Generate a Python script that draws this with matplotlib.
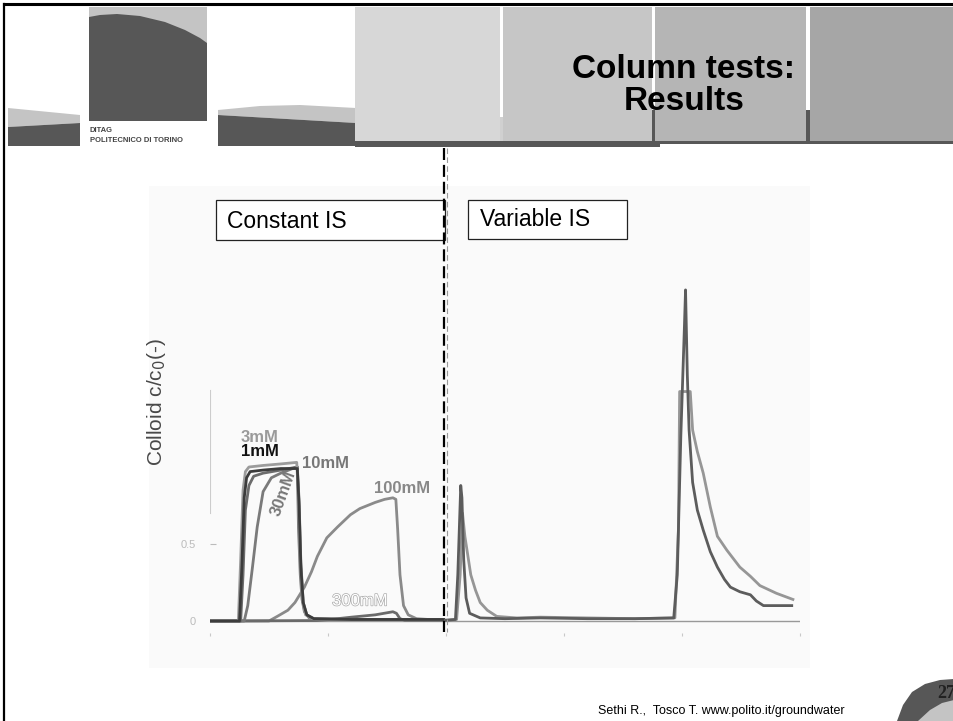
import matplotlib
matplotlib.use("Agg")
import matplotlib.pyplot as plt
import matplotlib.patheffects as pe
from matplotlib.patches import Rectangle, Polygon

plt.rcParams['font.family'] = ['Liberation Sans', 'DejaVu Sans']

# ---- data (x in tick units, y = c/c0) ----
x_1mM = [0, 0.25, 0.27, 0.29, 0.31, 0.34, 0.45, 0.60, 0.74, 0.755, 0.77, 0.79, 0.82, 0.88, 1.2, 1.98]
y_1mM = [0, 0, 0.35, 0.80, 0.93, 0.97, 0.98, 0.99, 0.99, 0.75, 0.35, 0.12, 0.04, 0.015, 0.01, 0.01]

x_3mM = [0, 0.24, 0.26, 0.28, 0.30, 0.33, 0.45, 0.60, 0.735, 0.75, 0.765, 0.785, 0.81, 0.87, 1.2, 1.98]
y_3mM = [0, 0, 0.40, 0.85, 0.97, 1.00, 1.01, 1.02, 1.03, 0.80, 0.40, 0.13, 0.04, 0.015, 0.01, 0.01]

x_10mM = [0, 0.26, 0.28, 0.30, 0.33, 0.37, 0.45, 0.60, 0.74, 0.755, 0.77, 0.79, 0.82, 0.88, 1.2, 1.98]
y_10mM = [0, 0, 0.30, 0.72, 0.88, 0.94, 0.96, 0.98, 1.00, 0.78, 0.38, 0.12, 0.04, 0.015, 0.01, 0.01]

x_30mM = [0, 0.29, 0.32, 0.36, 0.40, 0.45, 0.52, 0.60, 0.70, 0.74, 0.75, 0.765, 0.78, 0.80, 0.84, 0.9, 1.2, 1.98]
y_30mM = [0, 0, 0.10, 0.35, 0.61, 0.84, 0.93, 0.96, 0.99, 1.00, 0.60, 0.30, 0.14, 0.06, 0.02, 0.01, 0.01, 0.01]

x_100mM = [0, 0.50, 0.57, 0.66, 0.72, 0.80, 0.86, 0.91, 0.99, 1.08, 1.19, 1.27, 1.40, 1.48, 1.55,
           1.575, 1.59, 1.61, 1.64, 1.68, 1.75, 1.85, 1.98]
y_100mM = [0, 0, 0.03, 0.07, 0.12, 0.22, 0.32, 0.42, 0.54, 0.61, 0.69, 0.73, 0.77, 0.79, 0.80,
           0.79, 0.60, 0.30, 0.10, 0.04, 0.015, 0.01, 0.01]

x_300mM = [0, 0.9, 1.02, 1.2, 1.4, 1.55, 1.58, 1.61, 1.65, 1.75, 1.98]
y_300mM = [0, 0.003, 0.01, 0.025, 0.04, 0.06, 0.05, 0.015, 0.005, 0.005, 0.005]

# variable IS runs
x_var1 = [2.0, 2.08, 2.10, 2.125, 2.135, 2.15, 2.17, 2.20, 2.29, 2.5, 2.8, 3.2, 3.6, 3.93, 3.96, 3.99,
          4.02, 4.03, 4.045, 4.06, 4.09, 4.13, 4.18, 4.24, 4.30, 4.36, 4.41, 4.49, 4.58, 4.63, 4.69, 4.80, 4.93]
y_var1 = [0.005, 0.01, 0.3, 0.88, 0.8, 0.4, 0.15, 0.05, 0.02, 0.015, 0.02, 0.015, 0.015, 0.02, 0.3, 1.2,
          1.9, 2.15, 1.6, 1.24, 0.9, 0.72, 0.59, 0.45, 0.35, 0.27, 0.22, 0.19, 0.17, 0.13, 0.10, 0.10, 0.10]

x_var2 = [2.0, 2.09, 2.12, 2.14, 2.16, 2.19, 2.21, 2.25, 2.29, 2.35, 2.43, 2.6, 2.8, 3.2, 3.6, 3.94, 3.97,
          3.98, 4.07, 4.09, 4.13, 4.18, 4.24, 4.30, 4.38, 4.49, 4.58, 4.66, 4.80, 4.94]
y_var2 = [0.005, 0.01, 0.3, 0.7, 0.55, 0.4, 0.3, 0.2, 0.12, 0.07, 0.03, 0.02, 0.025, 0.02, 0.015, 0.02, 0.6,
          1.49, 1.49, 1.24, 1.1, 0.96, 0.74, 0.55, 0.46, 0.35, 0.29, 0.23, 0.18, 0.14]

x_ticks = [0, 1, 2, 3, 4, 5]
y_ticks = [0, 0.5]
y_ticklabels = ['0', '0.5']

W, H = 954, 721
fig = plt.figure(figsize=(W / 100, H / 100), dpi=100)

# ---- slide background layer in pixel coords ----
bg = fig.add_axes([0, 0, 1, 1], zorder=0)
bg.set_xlim(0, W)
bg.set_ylim(H, 0)
bg.axis('off')

dark = '#575757'
light = '#c4c4c4'

# left strip
bg.add_patch(Polygon([(8, 108), (80, 115), (80, 123), (8, 127)], color=light, lw=0))
bg.add_patch(Polygon([(8, 127), (80, 123), (80, 146), (8, 146)], color=dark, lw=0))
# logo block
bg.add_patch(Rectangle((89, 7), 118, 114, color=light, lw=0))
bg.add_patch(Polygon([(89, 121), (89, 17), (100, 15), (117, 14), (140, 16), (165, 22), (185, 30),
                      (200, 38), (207, 43), (207, 121)], color=dark, lw=0))
bg.text(90, 131, 'DITAG', fontsize=5.5, fontweight='bold', color='#444444', va='center')
bg.text(90, 141, 'POLITECNICO DI TORINO', fontsize=5.5, fontweight='bold', color='#444444', va='center')
# middle strip
bg.add_patch(Polygon([(218, 110), (260, 106), (300, 105), (356, 108), (356, 123), (218, 115)],
                     color=light, lw=0))
bg.add_patch(Polygon([(218, 115), (356, 123), (356, 146), (218, 146)], color=dark, lw=0))
# header blocks
blocks = [(355, 500, '#d7d7d7'), (503, 652, '#c6c6c6'), (655, 806, '#b5b5b5'), (810, 954, '#a6a6a6')]
bg.add_patch(Rectangle((355, 141), 305, 6, color=dark, lw=0))
bg.add_patch(Rectangle((660, 141), 294, 3, color=dark, lw=0))
for x0, x1, c in blocks:
    bg.add_patch(Rectangle((x0, 7), x1 - x0, 134, color=c, lw=0))
bg.add_patch(Rectangle((500, 117), 3, 24, color='#d0d0d0', lw=0))
bg.add_patch(Rectangle((652, 110), 3, 31, color=dark, lw=0))
bg.add_patch(Rectangle((806, 110), 4, 31, color=dark, lw=0))
bg.text(684, 69, 'Column tests:', fontsize=24, fontweight='bold', ha='center', va='center')
bg.text(684, 102, 'Results', fontsize=24, fontweight='bold', ha='center', va='center')

# slide frame
bg.plot([4, W], [4, 4], color='black', lw=2.2)
bg.plot([4, 4], [4, H], color='black', lw=1.6)

# chart picture background
bg.add_patch(Rectangle((149, 186), 661, 482, color='#fafafa', lw=0))

# boxes
bg.add_patch(Rectangle((216, 200), 229, 40, facecolor='white', edgecolor='#222222', lw=0.9))
bg.add_patch(Rectangle((468, 200), 159, 39, facecolor='white', edgecolor='#222222', lw=0.9))
bg.text(227, 221, 'Constant IS', fontsize=16.5, va='center')
bg.text(480, 220, 'Variable IS', fontsize=16.5, va='center')

# y label
bg.text(157, 402, 'Colloid c/c$_0$(-)', fontsize=15, rotation=90, ha='center', va='center', color='#484848')

# footer
bg.text(598, 711, 'Sethi R.,  Tosco T. www.polito.it/groundwater', fontsize=9, va='center')
bg.add_patch(Polygon([(897, 721), (903, 705), (912, 692), (925, 684), (940, 680), (954, 679), (954, 721)],
                     color=dark, lw=0))
bg.add_patch(Polygon([(918, 721), (930, 710), (942, 703), (954, 700), (954, 721)], color=light, lw=0))
bg.text(955, 693, '27', fontsize=13, fontweight='bold', family='Liberation Serif', ha='right',
        va='center', color='#222222')

# ---- data axes ----
ppu_x, ppu_y = 118.0, 154.0
x0_px, y0_px = 210.0, 621.0
ylo, yhi = -0.08, 2.4
bot_px = y0_px - ylo * ppu_y
top_px = y0_px - yhi * ppu_y
ax = fig.add_axes([x0_px / W, (H - bot_px) / H, 5 * ppu_x / W, (bot_px - top_px) / H], zorder=2)
ax.patch.set_alpha(0)
ax.set_xlim(0, 5)
ax.set_ylim(ylo, yhi)
for s in ax.spines.values():
    s.set_visible(False)
ax.axhline(0, color='#999999', lw=1, zorder=1)
ax.plot([0, 0], [0.7, 1.5], color='#cccccc', lw=0.8)

ax.set_xticks(x_ticks)
ax.set_xticklabels([''] * len(x_ticks))
ax.tick_params(axis='x', colors='#c8c8c8', length=2, width=0.8)
ax.set_yticks(y_ticks)
ax.set_yticklabels(y_ticklabels)
ax.tick_params(axis='y', colors='#bbbbbb', direction='in', length=4, width=0.8, pad=10, labelsize=8)

lw = 2.0
ax.plot(x_100mM, y_100mM, color='#8a8a8a', lw=lw)
ax.plot(x_300mM, y_300mM, color='#6a6a6a', lw=lw)
ax.plot(x_30mM, y_30mM, color='#7a7a7a', lw=lw)
ax.plot(x_10mM, y_10mM, color='#6c6c6c', lw=lw)
ax.plot(x_3mM, y_3mM, color='#9c9c9c', lw=lw)
ax.plot(x_1mM, y_1mM, color='#3c3c3c', lw=lw)
ax.plot(x_var2, y_var2, color='#969696', lw=lw)
ax.plot(x_var1, y_var1, color='#5c5c5c', lw=lw)

# curve labels
ax.text(0.42, 1.19, '3mM', fontsize=12, fontweight='bold', color='#9a9a9a', ha='center', va='center')
ax.text(0.42, 1.10, '1mM', fontsize=12, fontweight='bold', color='#111111', ha='center', va='center')
ax.text(0.98, 1.02, '10mM', fontsize=12, fontweight='bold', color='#777777', ha='center', va='center')
ax.text(0.62, 0.83, '30mM', fontsize=12, fontweight='bold', color='#777777', ha='center', va='center',
        rotation=70)
ax.text(1.63, 0.86, '100mM', fontsize=12, fontweight='bold', color='#888888', ha='center', va='center')
ax.text(1.27, 0.13, '300mM', fontsize=12, color='white', ha='center', va='center',
        path_effects=[pe.withStroke(linewidth=1.0, foreground='#aaaaaa')])

# separator between constant and variable IS
ax.plot([1.987, 1.987], [3.07, -0.07], color='black', lw=1.6, ls=(0, (5.4, 2.2)), clip_on=False, zorder=5)
ax.plot([2.012, 2.012], [3.07, -0.07], color='#999999', lw=0.8, ls=(0, (5, 3)), clip_on=False, zorder=5)

fig.savefig('out.png', dpi=100)
